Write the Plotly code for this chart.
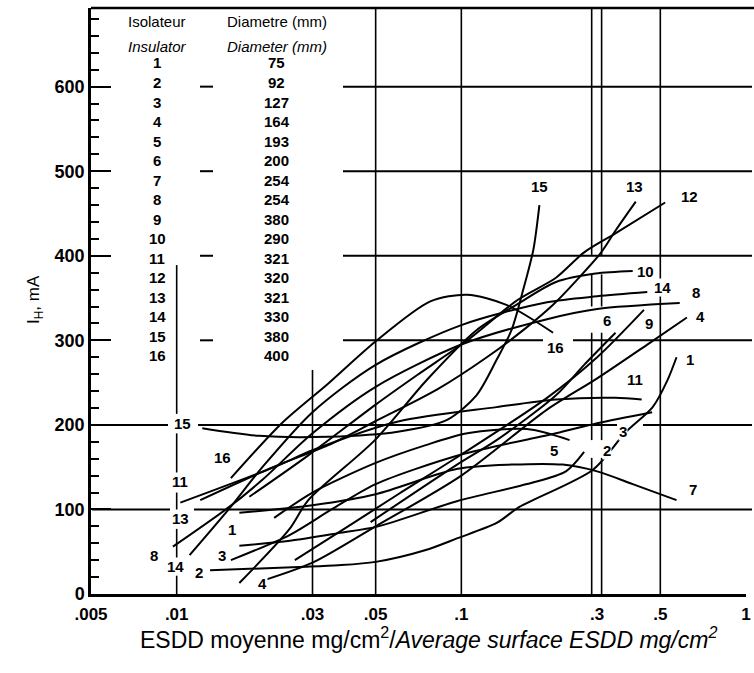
import math
import plotly.graph_objects as go

# ---------------- data ----------------
esdd_1 = [0.0131, 0.0269, 0.037, 0.05, 0.075, 0.097, 0.133, 0.16, 0.29, 0.377, 0.47, 0.53, 0.57]
ih_1 = [28, 32, 34, 38, 52, 66, 84, 103, 147, 191, 221, 253, 280]

esdd_2 = [0.0166, 0.025, 0.037, 0.051, 0.097, 0.17, 0.233, 0.27]
ih_2 = [57, 63, 72, 80, 110, 130, 145, 168]

esdd_3 = [0.0155, 0.025, 0.035, 0.05, 0.1, 0.215, 0.3, 0.468]
ih_3 = [40, 70, 100, 130, 165, 190, 202, 215]

esdd_4 = [0.0206, 0.03, 0.05, 0.1, 0.2, 0.3, 0.45, 0.62]
ih_4 = [17, 37, 80, 140, 218, 255, 295, 327]

esdd_5 = [0.022, 0.03, 0.05, 0.075, 0.105, 0.17, 0.24]
ih_5 = [90, 120, 155, 176, 190, 195, 182]

esdd_6 = [0.048, 0.0966, 0.133, 0.215, 0.27, 0.348]
ih_6 = [85, 153, 182, 235, 271, 309]

esdd_7 = [0.0166, 0.03, 0.05, 0.097, 0.15, 0.227, 0.3, 0.4, 0.57]
ih_7 = [96, 105, 118, 148, 153, 153, 145, 130, 111]

esdd_8 = [0.0097, 0.0153, 0.02, 0.03, 0.05, 0.1, 0.2, 0.3, 0.585]
ih_8 = [56, 103, 135, 190, 245, 295, 325, 337, 344]

esdd_9 = [0.026, 0.04, 0.06, 0.1, 0.2, 0.3, 0.438]
ih_9 = [40, 80, 118, 165, 232, 280, 336]

esdd_10 = [0.0166, 0.0248, 0.029, 0.0497, 0.076, 0.113, 0.156, 0.215, 0.296, 0.40]
ih_10 = [13, 76, 111, 182, 254, 312, 342, 369, 379, 382]

esdd_11 = [0.0103, 0.022, 0.03, 0.06, 0.133, 0.215, 0.348, 0.43]
ih_11 = [108, 150, 170, 204, 221, 230, 232, 230]

esdd_12 = [0.018, 0.029, 0.05, 0.07, 0.105, 0.158, 0.215, 0.27, 0.35, 0.52]
ih_12 = [115, 164, 224, 259, 300, 348, 374, 404, 427, 463]

esdd_13 = [0.0121, 0.0218, 0.0341, 0.0497, 0.0823, 0.1229, 0.1692, 0.21, 0.2525, 0.31, 0.35, 0.41]
ih_13 = [111, 150, 176, 204, 242, 280, 315, 342, 370, 404, 431, 464]

esdd_14 = [0.0111, 0.0153, 0.02, 0.03, 0.05, 0.1, 0.2, 0.3, 0.45]
ih_14 = [46, 101, 150, 215, 271, 318, 345, 352, 357]

esdd_15 = [0.0123, 0.0195, 0.0341, 0.0598, 0.0891, 0.113, 0.133, 0.150, 0.165, 0.179, 0.188]
ih_15 = [196, 187, 186, 192, 206, 235, 277, 312, 360, 407, 460]

esdd_16 = [0.0155, 0.0234, 0.0341, 0.0497, 0.0778, 0.1047, 0.144, 0.21]
ih_16 = [137, 202, 249, 298, 346, 354, 342, 309]

insulator_ids = ["1", "2", "3", "4", "5", "6", "7", "8", "9", "10", "11", "12", "13", "14", "15", "16"]
diameters_mm = [75, 92, 127, 164, 193, 200, 254, 254, 380, 290, 321, 320, 321, 330, 380, 400]

x_tickvals = [0.005, 0.01, 0.03, 0.05, 0.1, 0.3, 0.5, 1]
x_ticktext = [".005", ".01", ".03", ".05", ".1", ".3", ".5", "1"]
y_tickvals = [0, 100, 200, 300, 400, 500, 600]

curves = {
    "1": (esdd_1, ih_1), "2": (esdd_2, ih_2), "3": (esdd_3, ih_3), "4": (esdd_4, ih_4),
    "5": (esdd_5, ih_5), "6": (esdd_6, ih_6), "7": (esdd_7, ih_7), "8": (esdd_8, ih_8),
    "9": (esdd_9, ih_9), "10": (esdd_10, ih_10), "11": (esdd_11, ih_11), "12": (esdd_12, ih_12),
    "13": (esdd_13, ih_13), "14": (esdd_14, ih_14), "15": (esdd_15, ih_15), "16": (esdd_16, ih_16),
}

# ---------------- layout helpers ----------------
FONT = "Liberation Sans, Arial, Helvetica, sans-serif"
W, H = 754, 673
ML, MR, MT, MB = 91, 8, 8, 79
PW = W - ML - MR
PH = H - MT - MB


def px_to_paper_x(px):
    return (px - ML) / PW


def px_to_paper_y(py):
    return (H - MB - py) / PH


fig = go.Figure()
for name, (xs, ys) in curves.items():
    fig.add_trace(go.Scatter(
        x=xs, y=ys, mode="lines", name=name, showlegend=False, hoverinfo="skip",
        line=dict(color="black", width=2, shape="spline", smoothing=0.8),
    ))

shapes = []
# horizontal grid segments (pixel x extents, y in mA)
h_segments = [
    (600, [(200, 213), (343, 752)]),
    (500, [(200, 213), (343, 752)]),
    (400, [(200, 213), (343, 752)]),
    (300, [(200, 213), (343, 543), (573, 752)]),
    (200, [(92, 168), (198, 617), (643, 752)]),
    (100, [(92, 170), (194, 752)]),
]
for yv, segs in h_segments:
    for a, b in segs:
        shapes.append(dict(type="line", xref="paper", yref="y",
                           x0=px_to_paper_x(a), x1=px_to_paper_x(b), y0=yv, y1=yv,
                           line=dict(color="black", width=2)))

# top frame line across the full width
shapes.append(dict(type="line", xref="paper", yref="paper",
                   x0=px_to_paper_x(91), x1=px_to_paper_x(754), y0=1, y1=1,
                   line=dict(color="black", width=2.5)))

# vertical grid segments (x in data units, y in mA)
v_segments = [
    (0.01, [(213, 389), (143, 190), (97, 120), (41, 77), (0, 22)]),
    (0.03, [(0, 265)]),
    (0.05, [(0, 693)]),
    (0.1, [(0, 693)]),
    (0.287, [(0, 161), (182, 309), (340, 378), (401, 693)]),
    (0.311, [(0, 161), (182, 309), (340, 378), (401, 693)]),
    (0.5, [(0, 693)]),
]
for xv, segs in v_segments:
    for a, b in segs:
        shapes.append(dict(type="line", xref="x", yref="y",
                           x0=xv, x1=xv, y0=a, y1=b,
                           line=dict(color="black", width=1.6)))

annotations = []
# curve labels (x in data, y in mA)
curve_labels = [
    ("15", 0.0105, 202), ("16", 0.0145, 161), ("11", 0.0103, 133), ("13", 0.0103, 89),
    ("8", 0.0083, 46), ("14", 0.0099, 32), ("2", 0.0120, 25), ("3", 0.0144, 45),
    ("1", 0.0157, 76), ("4", 0.0200, 13),
    ("15", 0.1877, 482), ("13", 0.405, 482), ("12", 0.634, 470), ("10", 0.445, 381),
    ("14", 0.51, 363), ("8", 0.67, 357), ("6", 0.324, 324), ("9", 0.456, 320),
    ("4", 0.692, 328), ("16", 0.215, 292), ("11", 0.408, 254), ("1", 0.638, 277),
    ("3", 0.371, 192), ("5", 0.212, 170), ("2", 0.326, 170), ("7", 0.649, 123),
]
for txt, xv, yv in curve_labels:
    annotations.append(dict(text="<b>%s</b>" % txt, x=math.log10(xv), y=yv, xref="x", yref="y",
                            showarrow=False, font=dict(family=FONT, size=15, color="black"),
                            bgcolor="white", borderpad=0))

# table
col1_x = math.log10(0.00855)
col2_x = math.log10(0.0225)
tfont = dict(family=FONT, size=15, color="black")
annotations.append(dict(text="Isolateur", x=col1_x, y=677, xref="x", yref="y", showarrow=False, font=tfont))
annotations.append(dict(text="Diametre (mm)", x=col2_x, y=677, xref="x", yref="y", showarrow=False, font=tfont))
annotations.append(dict(text="<i>Insulator</i>", x=col1_x, y=648, xref="x", yref="y", showarrow=False, font=tfont))
annotations.append(dict(text="<i>Diameter (mm)</i>", x=col2_x, y=648, xref="x", yref="y", showarrow=False, font=tfont))
row_top = 628
row_step = 23.08
for i, (ins, dia) in enumerate(zip(insulator_ids, diameters_mm)):
    yv = row_top - i * row_step
    annotations.append(dict(text="<b>%s</b>" % ins, x=col1_x, y=yv, xref="x", yref="y", showarrow=False, font=tfont))
    annotations.append(dict(text="<b>%d</b>" % dia, x=col2_x, y=yv, xref="x", yref="y", showarrow=False, font=tfont))

# axis titles
annotations.append(dict(text="I<sub>H</sub>, mA", x=px_to_paper_x(22), y=px_to_paper_y(300),
                        xref="paper", yref="paper", showarrow=False, textangle=-90,
                        font=dict(family=FONT, size=17, color="black")))
annotations.append(dict(text="ESDD moyenne mg/cm<sup>2</sup>/<i>Average surface ESDD mg/cm<sup>2</sup></i>",
                        x=px_to_paper_x(428), y=px_to_paper_y(655), xref="paper", yref="paper",
                        showarrow=False, font=dict(family=FONT, size=23, color="black")))

fig.update_layout(
    width=W, height=H, autosize=False,
    margin=dict(l=ML, r=MR, t=MT, b=MB, pad=0, autoexpand=False),
    paper_bgcolor="white", plot_bgcolor="white",
    font=dict(family=FONT, color="black"),
    shapes=shapes, annotations=annotations,
    xaxis=dict(type="log", range=[math.log10(0.005), 0], tickvals=x_tickvals, ticktext=x_ticktext,
               showgrid=False, zeroline=False, showline=True, linecolor="black", linewidth=2.5,
               mirror=False, ticks="", automargin=False, ticklabeloverflow="allow",
               ticklabelstandoff=3,
               tickfont=dict(family=FONT, size=17, color="black", weight="bold")),
    yaxis=dict(range=[0, 693], tickvals=y_tickvals, showgrid=False, zeroline=False,
               showline=True, linecolor="black", linewidth=2.5, automargin=False,
               ticks="inside", ticklen=20, tickwidth=2, tickcolor="black",
               minor=dict(ticks="inside", ticklen=8, tickwidth=2, tickcolor="black", dtick=20, showgrid=False),
               tickfont=dict(family=FONT, size=18, color="black", weight="bold")),
)

fig.write_html("out.html", config={"displayModeBar": False},
               post_script="document.body.style.margin='0px';document.body.style.padding='0px';")
